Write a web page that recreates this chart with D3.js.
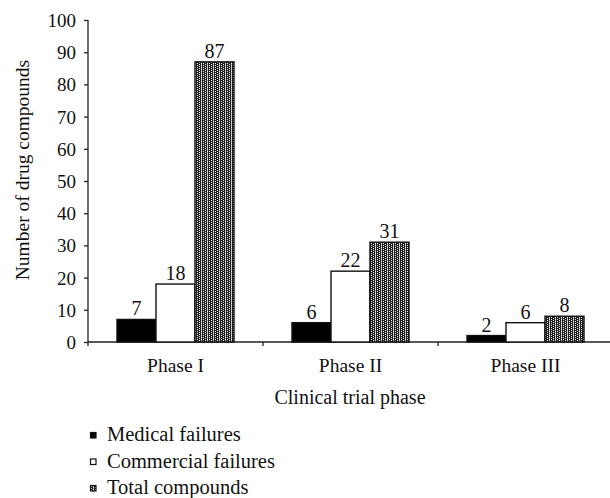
<!doctype html>
<html>
<head>
  <meta charset="utf-8">
  <style>
    body { margin:0; background:#fff; }
    svg, svg text { font-family:"Liberation Serif", "Times New Roman", serif !important; fill:#111; }
  </style>
  <script src="https://d3js.org/d3.v7.min.js"></script>
</head>
<body>
  <script>
    // data
    var phases = ["Phase I", "Phase II", "Phase III"];
    var seriesNames = ["Medical failures", "Commercial failures", "Total compounds"];
    var medical = [7, 6, 2];
    var commercial = [18, 22, 6];
    var total = [87, 31, 8];
    var yTicks = [0, 10, 20, 30, 40, 50, 60, 70, 80, 90, 100];

    var values = [medical, commercial, total];
    var rows = [];
    phases.forEach(function(p, i) {
      seriesNames.forEach(function(s, j) {
        rows.push({phase: p, series: s, value: values[j][i]});
      });
    });

    var serif = '"Liberation Serif", "Times New Roman", serif';
    var W = 610, H = 498;
    var svg = d3.select("body").append("svg")
      .attr("width", W)
      .attr("height", H)
      .attr("font-family", serif);

    // dotted fill for the totals
    var defs = svg.append("defs");
    var pat = defs.append("pattern")
      .attr("id", "dots")
      .attr("patternUnits", "userSpaceOnUse")
      .attr("width", 6)
      .attr("height", 4);
    pat.append("rect").attr("width", 6).attr("height", 4).attr("fill", "#1e1e1e");
    pat.append("rect").attr("x", 3).attr("width", 1).attr("height", 4).attr("fill", "#a0a0a0");
    [[1,0],[1,2],[5,1],[5,3],[3,1],[3,3]].forEach(function(d) {
      pat.append("rect").attr("x", d[0]).attr("y", d[1])
        .attr("width", 1).attr("height", 1).attr("fill", "#f4f4f4");
    });

    var fills = {
      "Medical failures": "#000",
      "Commercial failures": "#fff",
      "Total compounds": "url(#dots)"
    };

    var x = d3.scaleBand().domain(phases).range([88, 613]);
    var xs = d3.scaleBand().domain(seriesNames).range([29, 146]);
    var y = d3.scaleLinear().domain([0, 100]).range([342, 20]);

    // y axis
    var yAxis = svg.append("g")
      .attr("transform", "translate(88,0)")
      .call(d3.axisLeft(y).tickValues(yTicks).tickSize(4).tickPadding(8));
    yAxis.attr("font-family", serif).attr("font-size", 19);
    yAxis.selectAll("text").attr("dy", "0.34em").attr("fill", "#111");
    yAxis.select(".domain").attr("d", "M0,20V342").attr("stroke", "#222").attr("stroke-width", 1.3);
    yAxis.selectAll(".tick line").attr("stroke", "#222").attr("stroke-width", 1.3);

    // x axis: line plus ticks at category edges
    var xg = svg.append("g");
    xg.append("line")
      .attr("x1", 88).attr("x2", 613)
      .attr("y1", y(0)).attr("y2", y(0))
      .attr("stroke", "#222").attr("stroke-width", 1.3);
    var edges = phases.map(function(p) { return x(p); });
    edges.push(x(phases[phases.length - 1]) + x.bandwidth());
    edges.forEach(function(xx) {
      xg.append("line")
        .attr("x1", xx).attr("x2", xx)
        .attr("y1", y(0)).attr("y2", y(0) + 4)
        .attr("stroke", "#222").attr("stroke-width", 1.3);
    });
    xg.selectAll(".cat").data(phases).enter().append("text")
      .attr("class", "cat")
      .attr("x", function(d) { return x(d) + x.bandwidth() / 2; })
      .attr("y", 372)
      .attr("text-anchor", "middle")
      .attr("font-family", serif)
      .attr("font-size", 19.5)
      .text(function(d) { return d; });

    // bars
    svg.append("g").selectAll("rect").data(rows).enter().append("rect")
      .attr("x", function(d) { return x(d.phase) + xs(d.series); })
      .attr("y", function(d) { return y(d.value); })
      .attr("width", xs.bandwidth())
      .attr("height", function(d) { return y(0) - y(d.value); })
      .attr("fill", function(d) { return fills[d.series]; })
      .attr("stroke", "#111")
      .attr("stroke-width", 1.4);

    // value labels
    svg.append("g").selectAll("text").data(rows).enter().append("text")
      .attr("x", function(d) { return x(d.phase) + xs(d.series) + xs.bandwidth() / 2; })
      .attr("y", function(d) { return y(d.value) - 4; })
      .attr("text-anchor", "middle")
      .attr("font-family", serif)
      .attr("font-size", 20)
      .text(function(d) { return d.value; });

    // axis titles
    svg.append("text")
      .attr("x", 350)
      .attr("y", 404)
      .attr("text-anchor", "middle")
      .attr("font-family", serif)
      .attr("font-size", 20)
      .text("Clinical trial phase");

    svg.append("text")
      .attr("transform", "translate(29,170) rotate(-90)")
      .attr("text-anchor", "middle")
      .attr("font-family", serif)
      .attr("font-size", 19.5)
      .text("Number of drug compounds");

    // legend
    var leg = svg.append("g").selectAll("g").data(seriesNames).enter().append("g")
      .attr("transform", function(d, i) { return "translate(90," + (441 + i * 26.5) + ")"; });
    leg.append("rect")
      .attr("x", 0.5).attr("y", -8.5)
      .attr("width", 5.5).attr("height", 5.5)
      .attr("fill", function(d) { return fills[d]; })
      .attr("stroke", "#111")
      .attr("stroke-width", 1.2);
    leg.append("text")
      .attr("x", 17)
      .attr("y", 0)
      .attr("font-family", serif)
      .attr("font-size", 20.5)
      .text(function(d) { return d; });
  </script>
</body>
</html>
